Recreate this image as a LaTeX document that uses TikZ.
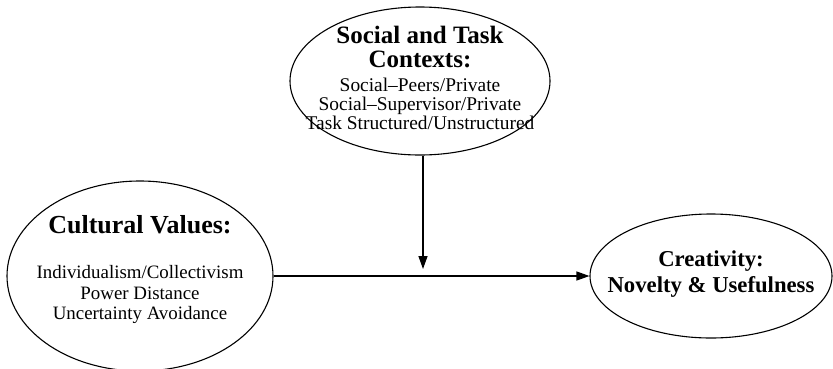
\documentclass[tikz,border=0pt]{standalone}
\usepackage{fontspec}
\setmainfont{Liberation Serif}
\usetikzlibrary{shapes.geometric,arrows.meta}

\begin{document}
\begin{tikzpicture}[x=1pt,y=-1pt]

    \tikzset{
      construct/.style={
        draw,
        ellipse,
        line width=1.1pt,
        inner sep=0pt,
      },
      words/.style={
        inner sep=0pt,
        align=center,
      },
      link/.style={
        line width=1.3pt,
        -{Triangle[length=13pt,width=9pt]},
      },
    }
    \useasboundingbox (0,0) rectangle (833,368);
    % ellipses
    \node[construct,minimum width=260,minimum height=148] (context) at (420,81) {};
    \node[construct,minimum width=266,minimum height=190] (culture) at (140,276) {};
    \node[construct,minimum width=242,minimum height=124] (creative) at (711,276) {};
    % texts
    \node[words,font=\fontsize{19.4}{19}\selectfont] (contexttext) at (420,78)
      {{\fontsize{25}{25}\selectfont\bfseries Social and Task}\\[5pt]
       {\fontsize{25}{25}\selectfont\bfseries Contexts:}\\[5pt]
       Social--Peers/Private\\
       Social--Supervisor/Private\\
       Task Structured/Unstructured};
    \node[words,font=\fontsize{18.9}{20.5}\selectfont] (culturetext) at (140,270)
      {{\fontsize{26}{26}\selectfont\bfseries Cultural Values:}\\[24.5pt]
       Individualism/Collectivism\\
       Power Distance\\
       Uncertainty Avoidance};
    \node[words,font=\fontsize{22.7}{26}\selectfont\bfseries] (creativetext) at (711,274)
      {Creativity:\\
       Novelty \& Usefulness};
    \coordinate (meet) at (423,269);

    \draw[link] (culture.east) -- (creative.west);
    \draw[link] (context.south -| meet) -- (meet);

\end{tikzpicture}
\end{document}
